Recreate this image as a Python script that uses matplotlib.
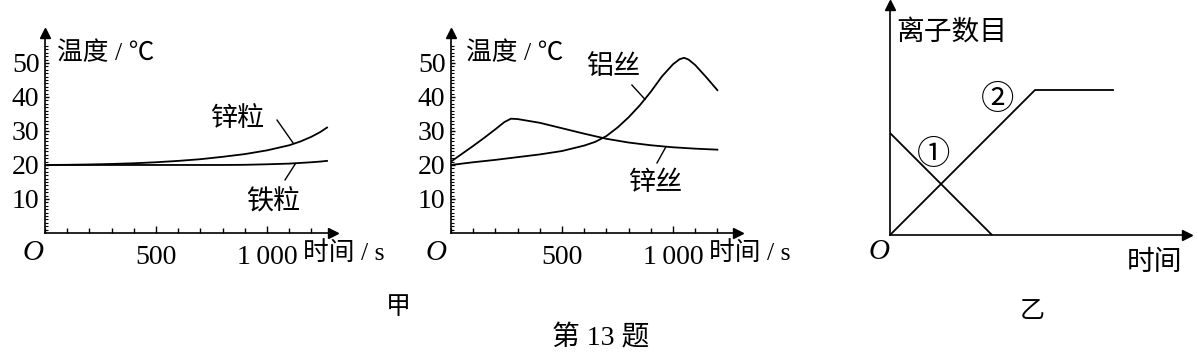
import matplotlib
matplotlib.use('Agg')
import matplotlib.pyplot as plt
from matplotlib.ticker import MultipleLocator, FixedLocator

plt.rcParams['font.family'] = ['Liberation Serif', 'Noto Sans CJK SC']

W, H = 1198, 361

# 甲 left: granules (time in s, temperature in ℃)
t_grain = [0, 100, 200, 300, 400, 500, 600, 700, 800, 900, 1000, 1100, 1150, 1200, 1240, 1270]
zinc_grain = [20, 20.05, 20.15, 20.3, 20.5, 20.8, 21.2, 21.7, 22.4, 23.2, 24.3, 25.8, 26.9, 28.3, 29.7, 31]
iron_grain = [20, 20, 20, 20, 20, 20, 20, 20, 20, 20.05, 20.2, 20.4, 20.6, 20.8, 21.0, 21.2]

# 甲 right: wires
t_al = [0, 100, 200, 300, 400, 500, 600, 650, 700, 750, 800, 850, 900, 950, 1000, 1030, 1050, 1070, 1100, 1150, 1200]
al_wire = [20, 20.8, 21.5, 22.3, 23.1, 24.1, 25.7, 26.8, 28.5, 31, 34, 37.5, 41.5, 46, 49.6, 51.1, 51.5, 51.0, 49.4, 45.8, 42]
t_zn = [0, 50, 100, 150, 200, 240, 270, 300, 400, 500, 600, 700, 800, 900, 1000, 1100, 1200]
zinc_wire = [21, 23.3, 25.6, 28, 30.5, 32.6, 33.6, 33.5, 32.4, 30.8, 29.2, 27.7, 26.6, 25.8, 25.2, 24.8, 24.5]

# 乙: ion counts (arbitrary units)
t_ion1 = [0, 102]
ion1 = [102, 0]
t_ion2 = [0, 145, 223]
ion2 = [0, 145, 145]

FS = 20     # digits
CFS = 19.5  # chinese labels
LW = 1.3

fig = plt.figure(figsize=(W / 100, H / 100), dpi=100)


def make_axes(left, top, right, bottom):
    return fig.add_axes([left / W, 1 - bottom / H, (right - left) / W, (bottom - top) / H])


def ftext(x, y, s, **kw):
    kw.setdefault('fontsize', CFS)
    kw.setdefault('va', 'center')
    fig.text(x / W, 1 - y / H, s, **kw)


def style_axes(ax, ticks=True):
    for side in ['top', 'right']:
        ax.spines[side].set_visible(False)
    for side in ['left', 'bottom']:
        ax.spines[side].set_linewidth(1.2)
    ax.plot(1, 0, '>k', markersize=7, transform=ax.transAxes, clip_on=False)
    ax.plot(0, 1, '^k', markersize=7, transform=ax.transAxes, clip_on=False)
    if ticks:
        ax.set_xticks([500, 1000], labels=['500', '1\u2009000'])
        ax.xaxis.set_minor_locator(MultipleLocator(100))
        ax.set_yticks([10, 20, 30, 40, 50])
        ax.yaxis.set_minor_locator(FixedLocator(range(1, 56)))
        ax.tick_params(axis='x', which='major', direction='in', length=5, width=1, pad=9, labelsize=FS)
        ax.tick_params(axis='x', which='minor', direction='in', length=3.5, width=1)
        ax.tick_params(axis='y', which='major', direction='in', length=3, width=1, pad=4, labelsize=FS)
        ax.tick_params(axis='y', which='minor', direction='in', length=2.5, width=0.8)
    else:
        ax.set_xticks([])
        ax.set_yticks([])
    ax.patch.set_alpha(0)


# left panel
ax1 = make_axes(45, 33, 333, 233)
ax1.set_xlim(0, 1297)
ax1.set_ylim(0, 58.8)
style_axes(ax1)
ax1.plot(t_grain, zinc_grain, color='black', lw=LW)
ax1.plot(t_grain, iron_grain, color='black', lw=LW)
ax1.plot([1045, 1117], [33.2, 26.5], color='black', lw=1)
ax1.plot([1081, 1126], [15.6, 20.2], color='black', lw=1)
ftext(57, 53, '温度 / ℃', fontsize=18.5)
ftext(211, 120, '锌粒')
ftext(246, 203, '铁粒')
ftext(33, 253, 'O', ha='center', style='italic', fontsize=21)
ftext(303, 253, '时间 / s', fontsize=18.5)

# middle panel
ax2 = make_axes(451, 33, 738, 233)
ax2.set_xlim(0, 1293)
ax2.set_ylim(0, 58.8)
style_axes(ax2)
ax2.plot(t_al, al_wire, color='black', lw=LW)
ax2.plot(t_zn, zinc_wire, color='black', lw=LW)
ax2.plot([815, 874], [43.5, 39.3], color='black', lw=1)
ax2.plot([928, 968], [20.6, 25.3], color='black', lw=1)
ftext(466, 53, '温度 / ℃', fontsize=18.5)
ftext(586, 67, '铝丝')
ftext(629, 183, '锌丝')
ftext(436, 253, 'O', ha='center', style='italic', fontsize=21)
ftext(709, 253, '时间 / s', fontsize=18.5)

# right panel
ax3 = make_axes(890, 5, 1187, 235)
ax3.set_xlim(0, 297)
ax3.set_ylim(0, 230)
style_axes(ax3, ticks=False)
ax3.plot(t_ion1, ion1, color='black', lw=LW)
ax3.plot(t_ion2, ion2, color='black', lw=LW)
ftext(896, 33, '离子数目', fontsize=20)
ftext(1127, 263, '时间', fontsize=20)
ftext(879, 252, 'O', ha='center', style='italic', fontsize=21)
ftext(934, 155, '①', ha='center', fontsize=24)
ftext(998, 100, '②', ha='center', fontsize=24)

ftext(398, 308, '甲', ha='center', fontsize=18)
ftext(1032, 312, '乙', ha='center', fontsize=18)
ftext(601, 338, '第 13 题', ha='center', fontsize=20)

fig.savefig('out.png', dpi=100)
